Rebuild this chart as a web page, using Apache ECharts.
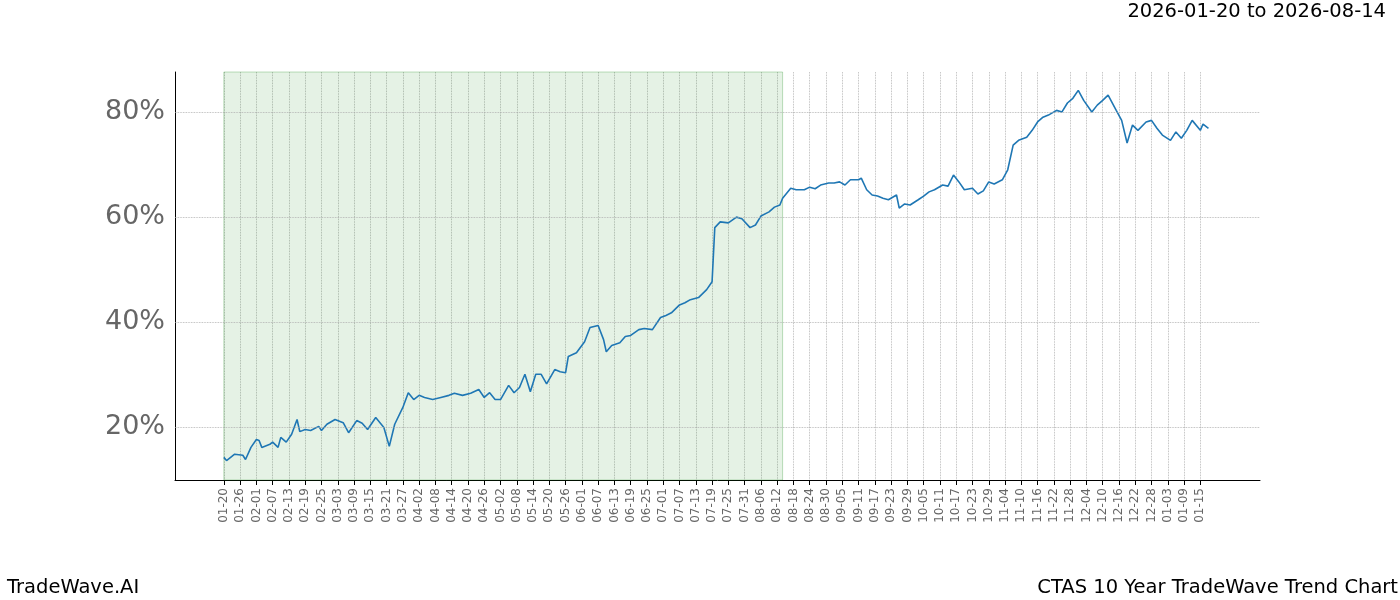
<!DOCTYPE html>
<html>
<head>
<meta charset="utf-8">
<script src="https://cdn.jsdelivr.net/npm/echarts@6/dist/echarts.min.js"></script>
<style>
  body { margin: 0; background: #fff; }
  #chart { width: 1400px; height: 600px; }
</style>
</head>
<body>
<div id="chart"></div>
<script>
// first date of the trend window, padding days before it on the axis
const startDate = '2026-01-20';
const padBefore = 18;
const padAfter = 382;
const shadeFrom = '2026-01-20';
const shadeTo = '2026-08-14';
const yGridValues = [20, 40, 60, 80];

// [days after startDate, percent]
const trendPoints = [
  [0, 14.3], [1, 13.7], [4, 14.9], [7, 14.7], [8, 13.9], [10, 16.2], [12, 17.7], [13, 17.5],
  [14, 16.2], [17, 16.8], [18, 17.2], [20, 16.2], [21, 18.1], [23, 17.2], [25, 18.7], [27, 21.5],
  [28, 19.2], [30, 19.6], [32, 19.4], [35, 20.2], [36, 19.4], [38, 20.6], [41, 21.5], [44, 20.9],
  [46, 19.0], [49, 21.3], [51, 20.8], [53, 19.6], [56, 21.9], [59, 20.0], [61, 16.4], [63, 20.6],
  [66, 23.8], [68, 26.6], [70, 25.3], [72, 26.1], [74, 25.7], [77, 25.3], [80, 25.7], [83, 26.1],
  [85, 26.5], [88, 26.1], [91, 26.5], [94, 27.2], [96, 25.7], [98, 26.6], [100, 25.3], [102, 25.3],
  [105, 28.0], [107, 26.6], [109, 27.6], [111, 30.1], [113, 26.8], [115, 30.1], [117, 30.1], [119, 28.3],
  [122, 31.0], [124, 30.6], [126, 30.4], [127, 33.5], [130, 34.2], [133, 36.3], [135, 39.0], [138, 39.4],
  [140, 36.7], [141, 34.4], [143, 35.6], [146, 36.1], [148, 37.3], [150, 37.5], [153, 38.6], [155, 38.8],
  [158, 38.6], [161, 40.9], [163, 41.3], [165, 41.8], [168, 43.3], [170, 43.7], [172, 44.3], [175, 44.7],
  [178, 46.2], [180, 47.7], [181, 58.0], [183, 59.1], [186, 58.9], [189, 60.0], [191, 59.7], [194, 58.0],
  [196, 58.5], [198, 60.2], [201, 61.0], [203, 61.9], [205, 62.3], [206, 63.6], [209, 65.5], [211, 65.2],
  [214, 65.2], [216, 65.7], [218, 65.4], [220, 66.1], [223, 66.5], [225, 66.5], [227, 66.7], [229, 66.1],
  [231, 67.1], [234, 67.1], [235, 67.4], [237, 65.2], [239, 64.2], [241, 64.0], [243, 63.6], [245, 63.3],
  [248, 64.2], [249, 61.7], [251, 62.5], [253, 62.3], [256, 63.3], [258, 64.0], [260, 64.8], [262, 65.2],
  [265, 66.1], [267, 65.9], [269, 68.0], [271, 66.7], [273, 65.2], [276, 65.5], [278, 64.4], [280, 65.0],
  [282, 66.7], [284, 66.3], [287, 67.1], [289, 69.0], [291, 73.7], [293, 74.6], [296, 75.2], [298, 76.5],
  [300, 78.1], [302, 79.0], [304, 79.4], [307, 80.3], [309, 80.0], [311, 81.7], [313, 82.6], [315, 84.1],
  [317, 82.2], [320, 80.0], [322, 81.3], [324, 82.2], [326, 83.2], [329, 80.3], [331, 78.4], [333, 74.1],
  [335, 77.5], [337, 76.5], [340, 78.1], [342, 78.4], [344, 76.9], [346, 75.6], [349, 74.6], [351, 76.2],
  [353, 75.0], [355, 76.5], [357, 78.4], [360, 76.5], [361, 77.7], [363, 76.9]
];

function fmt(d) {
  return d.toISOString().slice(0, 10);
}
const base = new Date(startDate + 'T00:00:00Z');
const dates = [];
for (let i = -padBefore; i <= padAfter; i++) {
  dates.push(fmt(new Date(base.getTime() + i * 86400000)));
}
const lineData = trendPoints.map(p => [dates[p[0] + padBefore], p[1]]);
const isLabel = idx => idx >= padBefore && idx <= padBefore + 360 && (idx - padBefore) % 6 === 0;

const chart = echarts.init(document.getElementById('chart'));
chart.setOption({
  animation: false,
  textStyle: { fontFamily: 'DejaVu Sans' },
  graphic: [
    { type: 'text', right: 14, top: 2, style: { text: '2026-01-20 to 2026-08-14', font: '19.5px DejaVu Sans', fill: '#000' } },
    { type: 'text', left: 7, bottom: 2, style: { text: 'TradeWave.AI', font: '19.5px DejaVu Sans', fill: '#000' } },
    { type: 'text', right: 2, bottom: 2, style: { text: 'CTAS 10 Year TradeWave Trend Chart', font: '19.5px DejaVu Sans', fill: '#000' } }
  ],
  grid: { left: 175, right: 140, top: 72, bottom: 120 },
  xAxis: {
    type: 'category',
    data: dates,
    boundaryGap: false,
    axisLine: { lineStyle: { color: '#000' } },
    axisTick: { interval: isLabel, lineStyle: { color: '#000' } },
    axisLabel: {
      interval: isLabel,
      rotate: 90,
      color: '#666',
      fontSize: 12,
      formatter: v => v.slice(5)
    },
    splitLine: { show: true, interval: isLabel, lineStyle: { color: '#aaa', type: 'dotted', width: 0.8 } }
  },
  yAxis: {
    type: 'value',
    min: 10,
    max: 87.6,
    interval: 10,
    axisLine: { show: true, lineStyle: { color: '#000' } },
    axisTick: { show: false },
    splitLine: { show: false },
    axisLabel: {
      color: '#666',
      fontSize: 27,
      margin: 10,
      formatter: v => (v % 20 === 0 && v > 0) ? v + '%' : ''
    }
  },
  series: [{
    type: 'line',
    data: lineData,
    showSymbol: false,
    lineStyle: { color: '#1f77b4', width: 1.6 },
    itemStyle: { color: '#1f77b4' },
    markArea: {
      silent: true,
      itemStyle: { color: 'rgba(0,128,0,0.1)', borderColor: 'rgba(0,128,0,0.25)', borderWidth: 1 },
      data: [[{ xAxis: shadeFrom }, { xAxis: shadeTo }]]
    },
    markLine: {
      silent: true,
      symbol: 'none',
      label: { show: false },
      lineStyle: { color: '#aaa', type: 'dotted', width: 0.8 },
      data: yGridValues.map(v => ({ yAxis: v }))
    }
  }]
});
</script>
</body>
</html>
